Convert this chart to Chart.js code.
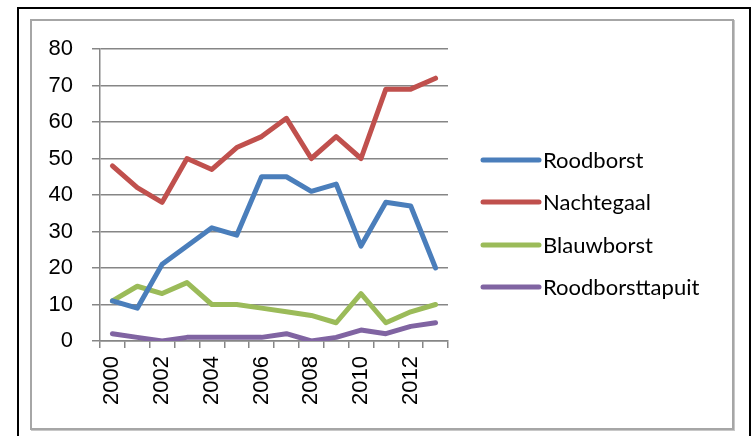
<!DOCTYPE html>
<html>
<head>
<meta charset="utf-8">
<script src="https://cdn.jsdelivr.net/npm/chart.js@4/dist/chart.umd.min.js"></script>
<style>
  html, body { margin: 0; padding: 0; background: #fff; }
  #outer { position: absolute; left: 17px; top: 7px; width: 730px; height: 440px; border: 2px solid #000; }
  #inner { position: absolute; left: 30px; top: 19px; width: 700px; height: 407px; border: 2px solid #a6a6a6; box-shadow: 1px 1px 0 #c8c8c8; }
  #c { position: absolute; left: 0; top: 0; }
</style>
</head>
<body>
<div id="outer"></div>
<div id="inner"></div>
<canvas id="c" width="752" height="436"></canvas>
<script>
const years = ['2000','2001','2002','2003','2004','2005','2006','2007','2008','2009','2010','2011','2012','2013'];
const seriesNames = ['Roodborst', 'Nachtegaal', 'Blauwborst', 'Roodborsttapuit'];
const roodborst = [11, 9, 21, 26, 31, 29, 45, 45, 41, 43, 26, 38, 37, 20];
const nachtegaal = [48, 42, 38, 50, 47, 53, 56, 61, 50, 56, 50, 69, 69, 72];
const blauwborst = [11, 15, 13, 16, 10, 10, 9, 8, 7, 5, 13, 5, 8, 10];
const roodborsttapuit = [2, 1, 0, 1, 1, 1, 1, 2, 0, 1, 3, 2, 4, 5];
const seriesColors = ['#4a7ebb', '#c0504d', '#9bbb59', '#8064a2'];
const yMin = 0, yMax = 80, yStep = 10;

const values = [roodborst, nachtegaal, blauwborst, roodborsttapuit];
const datasets = seriesNames.map((name, i) => ({
  label: name,
  data: values[i],
  borderColor: seriesColors[i],
  backgroundColor: seriesColors[i],
  borderWidth: 5,
  pointRadius: 0,
  tension: 0,
  borderCapStyle: 'round',
  borderJoinStyle: 'round',
  fill: false
}));

const legendPlugin = {
  id: 'customLegend',
  afterDraw(chart) {
    const ctx = chart.ctx;
    ctx.save();
    const x0 = 483, x1 = 539, tx = 543;
    const ys = [160, 202, 245, 287];
    ctx.font = '22px Lato, "Open Sans", sans-serif';
    ctx.textBaseline = 'middle';
    ctx.textAlign = 'left';
    chart.data.datasets.forEach((ds, i) => {
      ctx.strokeStyle = ds.borderColor;
      ctx.lineWidth = 5;
      ctx.lineCap = 'round';
      ctx.beginPath();
      ctx.moveTo(x0, ys[i]);
      ctx.lineTo(x1, ys[i]);
      ctx.stroke();
      ctx.fillStyle = '#000';
      ctx.fillText(ds.label, tx, ys[i] + 1);
    });
    ctx.restore();
  }
};

new Chart(document.getElementById('c'), {
  type: 'line',
  data: { labels: years, datasets },
  options: {
    responsive: false,
    animation: false,
    layout: { padding: { left: 0, top: 49, right: 304, bottom: 0 } },
    plugins: { legend: { display: false }, tooltip: { enabled: false } },
    scales: {
      x: {
        offset: true,
        afterFit(scale) { scale.height = 95; },
        grid: { offset: true, drawOnChartArea: false, drawTicks: true, tickLength: 7, color: '#868686', lineWidth: 1.5 },
        border: { color: '#868686', width: 1.5 },
        ticks: {
          autoSkip: false,
          maxRotation: 90,
          minRotation: 90,
          padding: 8,
          color: '#000',
          font: { family: '"Liberation Sans", Arial, sans-serif', size: 22 },
          callback(value, index) { return index % 2 === 0 ? years[index] : ''; }
        }
      },
      y: {
        min: yMin,
        max: yMax,
        afterFit(scale) { scale.width = 100; },
        grid: { color: '#868686', lineWidth: 1.5, tickLength: 8 },
        border: { color: '#868686', width: 1.5 },
        ticks: {
          stepSize: yStep,
          padding: 19,
          color: '#000',
          font: { family: '"Liberation Sans", Arial, sans-serif', size: 22 }
        }
      }
    }
  },
  plugins: [legendPlugin]
});
</script>
</body>
</html>
